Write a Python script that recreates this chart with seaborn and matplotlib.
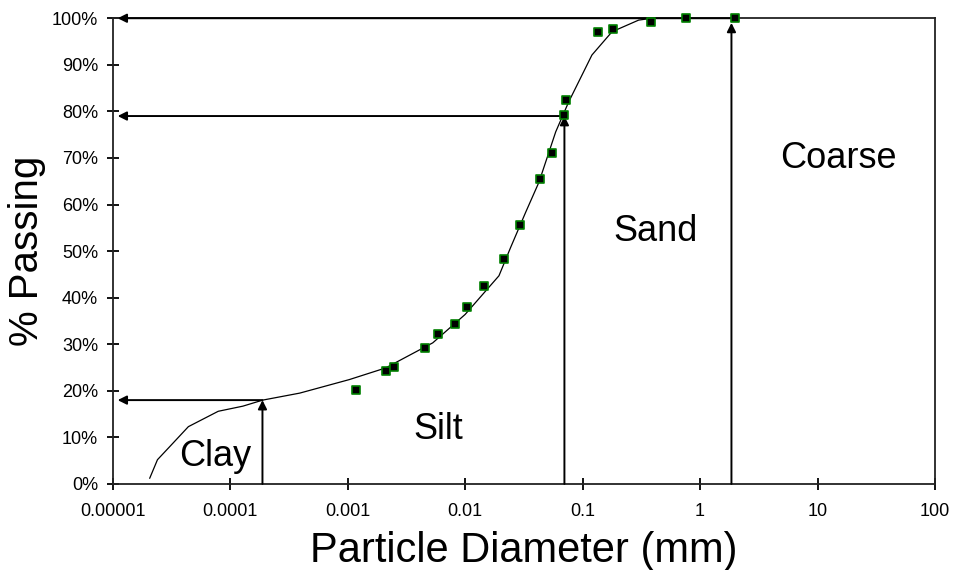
import matplotlib
matplotlib.use('Agg')
import pandas as pd
import matplotlib.pyplot as plt
import seaborn as sns

sns.set_style('ticks')
plt.rcParams['font.family'] = ['Liberation Sans', 'DejaVu Sans']
plt.rcParams['text.color'] = 'black'
plt.rcParams['axes.labelcolor'] = 'black'

# Measured grain sizes (mm) and percent passing
diam_mm = [0.00118, 0.0021, 0.00247, 0.00454, 0.00585, 0.0082, 0.01045, 0.0145,
           0.0213, 0.0292, 0.0436, 0.0547, 0.0692, 0.0716, 0.134, 0.183, 0.385,
           0.764, 1.98]
passing = [20.2, 24.2, 25.2, 29.2, 32.3, 34.3, 38.1, 42.4, 48.2, 55.5, 65.5,
           71.1, 79.3, 82.4, 97.0, 97.6, 99.1, 100.0, 100.0]

# Fitted gradation curve
curve_mm = [2.06e-5, 2.4e-5, 3.05e-5, 4.4e-5, 7.9e-5, 1.28e-4, 1.89e-4, 3.9e-4,
            1.03e-3, 2.1e-3, 5.3e-3, 1.0e-2, 1.94e-2, 2.44e-2, 3.27e-2, 4.25e-2,
            5.9e-2, 7.6e-2, 0.102, 0.12, 0.178, 0.30, 0.39, 0.8]
curve_pct = [1.2, 5.2, 8.0, 12.3, 15.6, 16.7, 18.0, 19.5, 22.4, 24.9, 30.3, 36.4,
             44.7, 50.8, 58.3, 64.8, 75.6, 82.0, 88.5, 92.1, 97.1, 99.6, 100.0, 100.0]

# Class boundaries (clay/silt, silt/sand, sand/coarse)
bound_mm = [0.000188, 0.07, 1.85]
bound_pct = [18, 79, 100]

# Soil class labels
class_names = ['Clay', 'Silt', 'Sand', 'Coarse']
class_mm = [7.4e-5, 0.0059, 0.42, 15]
class_pct = [5.8, 11.6, 54.3, 69.8]

x_ticks = [1e-5, 1e-4, 1e-3, 1e-2, 1e-1, 1, 10, 100]
x_ticklabels = ['0.00001', '0.0001', '0.001', '0.01', '0.1', '1', '10', '100']

pts = pd.DataFrame({'d': diam_mm, 'p': passing})
crv = pd.DataFrame({'d': curve_mm, 'p': curve_pct})

fig, ax = plt.subplots(figsize=(9.56, 5.70), dpi=100)
fig.subplots_adjust(left=0.118, right=0.978, top=0.968, bottom=0.151)

ax.set_xscale('log')
sns.lineplot(data=crv, x='d', y='p', sort=False, color='black', lw=0.9, ax=ax)
sns.scatterplot(data=pts, x='d', y='p', marker='s', s=38, color='black',
                edgecolor='#008000', linewidth=1.2, zorder=5, clip_on=False, ax=ax)

# boundary arrows: up from the x axis, then left to the y axis
arrow = dict(arrowstyle='-|>', color='black', lw=1.4, mutation_scale=13,
             shrinkA=0, shrinkB=0)
for d, p in zip(bound_mm, bound_pct):
    top = p - 1 if p >= 100 else p
    ax.annotate('', xy=(d, top), xytext=(d, 0), arrowprops=arrow)
    ax.annotate('', xy=(1.1e-5, p), xytext=(d, p), arrowprops=arrow)

for name, d, p in zip(class_names, class_mm, class_pct):
    ax.text(d, p, name, fontsize=26, ha='center', va='center', color='black')

ax.set_xlim(1e-5, 100)
ax.set_ylim(0, 100)
ax.set_xticks(x_ticks)
ax.set_xticklabels(x_ticklabels)
ax.xaxis.set_minor_locator(matplotlib.ticker.NullLocator())
ax.set_yticks(range(0, 101, 10))
ax.set_yticklabels([f'{v}%' for v in range(0, 101, 10)])
ax.tick_params(direction='inout', length=9, width=1.3, labelsize=13, pad=6, colors='black')
ax.tick_params(axis='x', pad=9)

for s in ax.spines.values():
    s.set_visible(True)
    s.set_linewidth(1.3)
    s.set_color('#222222')

ax.set_xlabel('Particle Diameter (mm)', fontsize=30, labelpad=8)
ax.set_ylabel('% Passing', fontsize=29, labelpad=4)

plt.savefig('out.png', dpi=100)
